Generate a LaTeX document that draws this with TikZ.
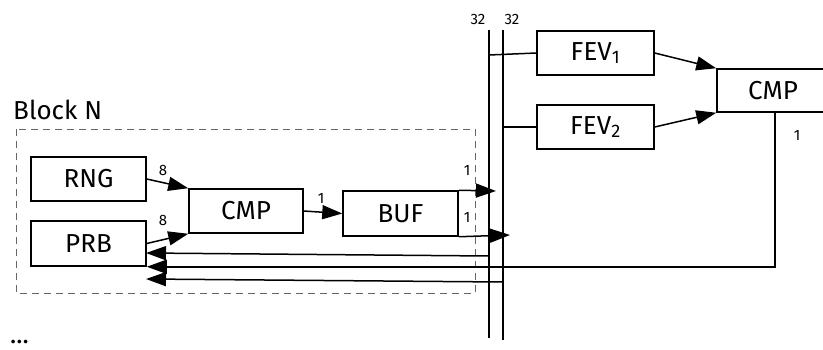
\documentclass[tikz,border=0pt]{standalone}
\usepackage{fontspec}
\setmainfont{Fira Sans}
\usetikzlibrary{arrows.meta}
\begin{document}
\begin{tikzpicture}[x=1pt,y=-1pt,
  box/.style={draw,line width=1.5pt,minimum width=115pt,minimum height=44pt,inner sep=0pt,
    font=\fontsize{26}{30}\selectfont},
  lbl/.style={font=\fontsize{15}{17}\selectfont,inner sep=0pt},
  wire/.style={line width=1.5pt},
  arr/.style={wire,-{Triangle[length=20pt,width=14pt]}},
  bus/.style={line width=1.5pt}]
\useasboundingbox (0,0) rectangle (823,349);
% dashed block
\draw[line width=1pt,gray!80!black,dash pattern=on 7pt off 5pt] (16,129) rectangle (475,293);
\node[anchor=base west,inner sep=0pt,font=\fontsize{26}{30}\selectfont] (blk) at (13,119) {Block N};
\node[anchor=base west,inner sep=0pt,font=\fontsize{26}{30}\selectfont] (dots) at (10,343) {...};
% boxes
\node[box] (rng) at (88.5,179) {RNG};
\node[box,minimum height=45pt] (prb) at (88.5,243.5) {PRB};
\node[box,minimum width=114pt] (cmpa) at (246,211) {CMP};
\node[box,minimum height=45pt] (buf) at (400.5,213.5) {BUF};
\node[box,minimum width=117pt] (fevA) at (595.5,53) {FEV\textsubscript{1}};
\node[box,minimum width=117pt] (fevB) at (595.5,127) {FEV\textsubscript{2}};
\node[box,minimum width=112pt,minimum height=43pt] (cmpb) at (773,90.5) {CMP};
% buses
\coordinate (b1t) at (489,30);
\coordinate (b1b) at (489,338);
\coordinate (b2t) at (503,30);
\coordinate (b2b) at (503,340);
\draw[bus] (b1t) -- (b1b);
\draw[bus] (b2t) -- (b2b);
\node[lbl] (l32a) at (478,19) {32};
\node[lbl] (l32b) at (512,19) {32};
% connectors inside block
\draw[arr] (rng.east) -- (cmpa.north west);
\draw[arr] (prb.east) -- (cmpa.south west);
\node[lbl] (l8a) at (163,170) {8};
\node[lbl] (l8b) at (163,220) {8};
\draw[arr] (cmpa.east) -- (buf.west);
\node[lbl] (l1a) at (321,198) {1};
\coordinate (bo1) at (496,191);
\coordinate (bo2) at (510,235);
\draw[arr] (buf.north east) -- (bo1);
\draw[arr] (buf.south east) -- (bo2);
\node[lbl] (l1b) at (467,170) {1};
\node[lbl] (l1c) at (467,217) {1};
% bus to FEV
\coordinate (f1) at (489,55);
\coordinate (f2) at (503,127);
\draw[wire] (f1) -- (fevA.west);
\draw[wire] (f2) -- (fevB.west);
\draw[arr] (fevA.east) -- (cmpb.north west);
\draw[arr] (fevB.east) -- (cmpb.south west);
% feedback
\coordinate (c2) at (775,112);
\draw[arr] (c2) |- (prb.south east);
\node[lbl] (l1d) at (797,135) {1};
\coordinate (r1) at (489,256);
\coordinate (r1e) at (146,253);
\coordinate (r2) at (503,282);
\coordinate (r2e) at (146,279);
\draw[arr] (r1) -- (r1e);
\draw[arr] (r2) -- (r2e);
\end{tikzpicture}
\end{document}
